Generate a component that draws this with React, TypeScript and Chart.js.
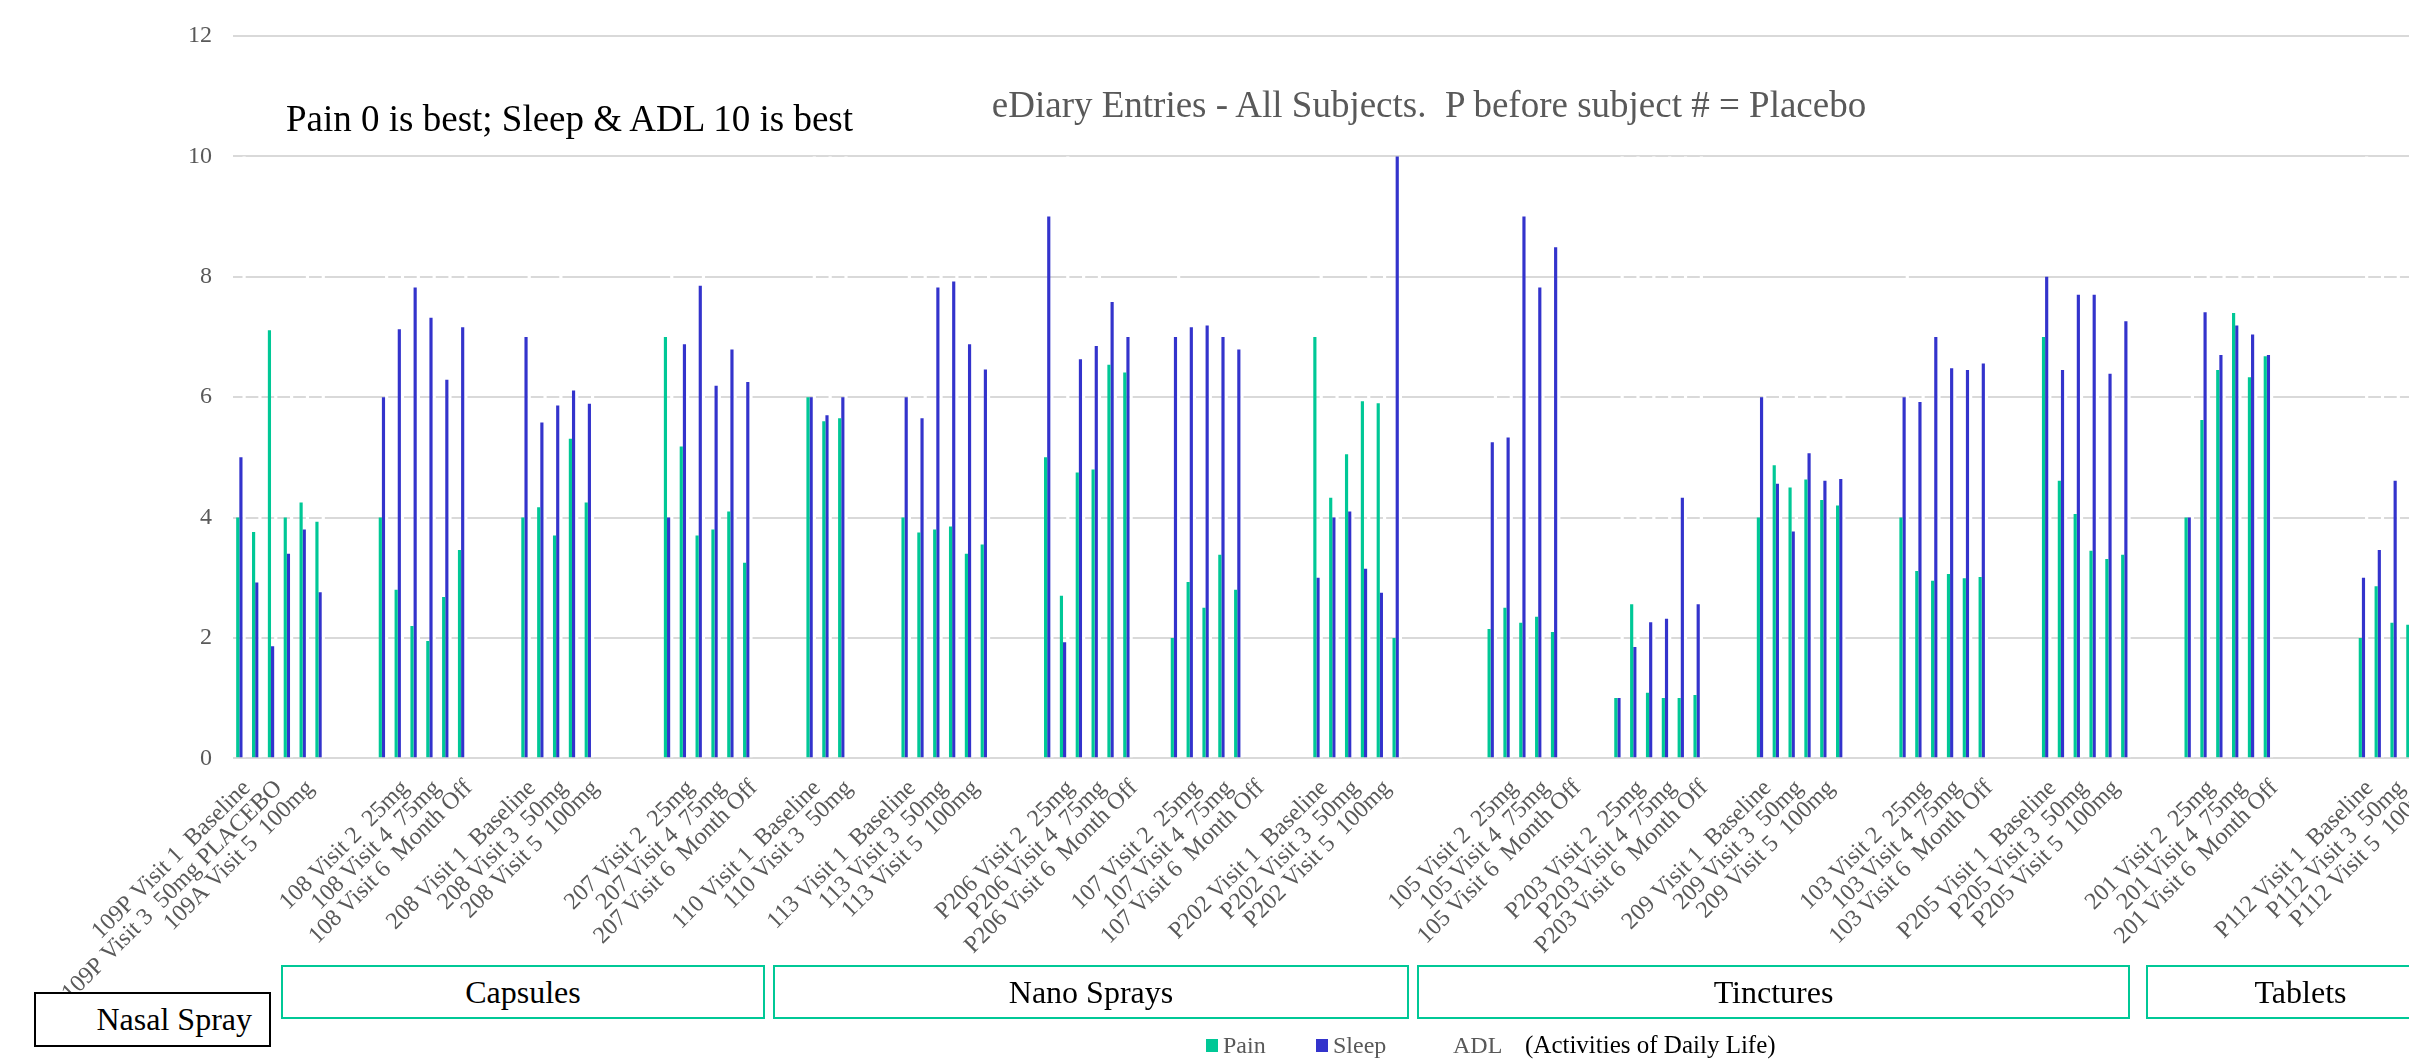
import React, { useEffect, useRef } from "react";
import { Chart, registerables } from "chart.js";

Chart.register(...registerables);

const E = "";
const _ = null;

// Category labels (only every other label is shown in the source chart)
const categories: string[] = [
  "109P Visit 1  Baseline", E, "109P Visit 3  50mg PLACEBO", E, "109A Visit 5  100mg", E,
  E, E, E,
  E, "108 Visit 2  25mg", E, "108 Visit 4  75mg", E, "108 Visit 6  Month Off",
  E, E, E,
  "208 Visit 1  Baseline", E, "208 Visit 3  50mg", E, "208 Visit 5  100mg", E,
  E, E, E,
  E, "207 Visit 2  25mg", E, "207 Visit 4  75mg", E, "207 Visit 6  Month Off",
  E, E, E,
  "110 Visit 1  Baseline", E, "110 Visit 3  50mg",
  E, E, E,
  "113 Visit 1  Baseline", E, "113 Visit 3  50mg", E, "113 Visit 5  100mg", E,
  E, E, E,
  E, "P206 Visit 2  25mg", E, "P206 Visit 4  75mg", E, "P206 Visit 6  Month Off",
  E, E,
  E, "107 Visit 2  25mg", E, "107 Visit 4  75mg", E, "107 Visit 6  Month Off",
  E, E, E,
  "P202 Visit 1  Baseline", E, "P202 Visit 3  50mg", E, "P202 Visit 5  100mg", E,
  E, E, E, E, E,
  E, "105 Visit 2  25mg", E, "105 Visit 4  75mg", E, "105 Visit 6  Month Off",
  E, E,
  E, "P203 Visit 2  25mg", E, "P203 Visit 4  75mg", E, "P203 Visit 6  Month Off",
  E, E, E,
  "209 Visit 1  Baseline", E, "209 Visit 3  50mg", E, "209 Visit 5  100mg", E,
  E, E, E,
  E, "103 Visit 2  25mg", E, "103 Visit 4  75mg", E, "103 Visit 6  Month Off",
  E, E, E,
  "P205 Visit 1  Baseline", E, "P205 Visit 3  50mg", E, "P205 Visit 5  100mg", E,
  E, E, E,
  E, "201 Visit 2  25mg", E, "201 Visit 4  75mg", E, "201 Visit 6  Month Off",
  E, E, E, E, E,
  "P112 Visit 1  Baseline", E, "P112 Visit 3  50mg", E, "P112 Visit 5  100mg", E,
];

const pain: (number | null)[] = [
  4.0, 3.76, 7.11, 4.0, 4.25, 3.93, _, _, _,
  4.0, 2.8, 2.2, 1.95, 2.68, 3.46, _, _, _,
  4.0, 4.17, 3.7, 5.31, 4.25, _, _, _, _,
  7.0, 5.18, 3.7, 3.8, 4.1, 3.25, _, _, _,
  6.0, 5.6, 5.65, _, _, _,
  4.0, 3.75, 3.8, 3.85, 3.4, 3.55, _, _, _,
  5.0, 2.7, 4.75, 4.8, 6.54, 6.41, _, _,
  2.0, 2.93, 2.5, 3.38, 2.8, _, _, _, _,
  7.0, 4.33, 5.05, 5.93, 5.9, 2.0, _, _, _, _, _,
  2.15, 2.5, 2.25, 2.35, 2.1, _, _, _,
  1.0, 2.56, 1.09, 1.0, 1.0, 1.05, _, _, _,
  4.0, 4.87, 4.5, 4.63, 4.29, 4.2, _, _, _,
  4.0, 3.11, 2.95, 3.06, 2.99, 3.01, _, _, _,
  7.0, 4.61, 4.06, 3.45, 3.31, 3.38, _, _, _,
  4.0, 5.62, 6.45, 7.4, 6.33, 6.68, _, _, _, _, _,
  2.0, 2.86, 2.25, 2.22, _, _,
];

const sleep: (number | null)[] = [
  5.0, 2.92, 1.86, 3.4, 3.8, 2.76, _, _, _,
  6.0, 7.13, 7.82, 7.32, 6.29, 7.16, _, _, _,
  7.0, 5.58, 5.86, 6.11, 5.89, _, _, _, _,
  4.0, 6.88, 7.85, 6.19, 6.79, 6.25, _, _, _,
  6.0, 5.7, 6.0, _, _, _,
  6.0, 5.65, 7.82, 7.92, 6.88, 6.46, _, _, _,
  9.0, 1.93, 6.63, 6.85, 7.58, 7.0, _, _,
  7.0, 7.16, 7.19, 7.0, 6.79, _, _, _, _,
  3.0, 4.0, 4.1, 3.15, 2.75, 10.0, _, _, _, _, _,
  5.25, 5.33, 9.0, 7.82, 8.49, _, _, _,
  1.0, 1.85, 2.26, 2.32, 4.33, 2.56, _, _, _,
  6.0, 4.56, 3.77, 5.07, 4.61, 4.64, _, _, _,
  6.0, 5.92, 7.0, 6.48, 6.45, 6.56, _, _, _,
  8.0, 6.45, 7.7, 7.7, 6.39, 7.26, _, _, _,
  4.0, 7.41, 6.7, 7.19, 7.04, 6.7, _, _, _, _, _,
  3.0, 3.46, 4.61, _, _, _,
];

// ADL bars are white in the source (only visible where they cut the grid lines)
const adl: (number | null)[] = [
  10.0, 7.0, 7.0, 7.0, 8.5, 8.5, _, _, _,
  9.0, 9.0, 9.0, 9.0, 9.0, 9.0, _, _, _,
  8.5, 7.0, 8.5, 7.0, 7.0, _, _, _, _,
  8.5, 7.0, 8.5, 7.0, 7.0, 7.0, _, _, _,
  10.0, 10.0, 10.0, _, _, _,
  9.0, 9.0, 9.0, 9.0, 9.0, 9.0, _, _, _,
  7.0, 10.0, 9.0, 9.0, 7.0, 7.0, _, _,
  8.5, 7.0, 7.0, 7.0, 7.0, _, _, _, _,
  8.5, 7.0, 7.0, 8.5, 8.5, 7.0, _, _, _, _, _,
  7.0, 7.0, 7.0, 7.0, 7.0, _, _, _,
  10.0, 10.0, 10.0, 10.0, 10.0, 10.0, _, _, _,
  7.0, 7.0, 7.0, 7.0, 7.0, 7.0, _, _, _,
  8.5, 7.0, 7.0, 7.0, 7.0, 7.0, _, _, _,
  7.0, 7.0, 7.0, 7.0, 7.0, 7.0, _, _, _,
  9.0, 9.0, 9.0, 9.0, 9.0, 9.0, _, _, _, _, _,
  10.0, 9.0, 9.0, _, _, _,
];

const seriesNames = ["Pain", "Sleep", "ADL"];
const seriesColors = ["#00C896", "#3333CC", "#FFFFFF"];
const yMin = 0;
const yMax = 12;
const yStep = 2;

const titleText = "eDiary Entries - All Subjects.  P before subject # = Placebo";
const noteText = "Pain 0 is best; Sleep & ADL 10 is best";
const adlNote = "(Activities of Daily Life)";
const productGroups = ["Nasal Spray", "Capsules", "Nano Sprays", "Tinctures", "Tablets"];

const SERIF = "'Liberation Serif', 'Times New Roman', Times, serif";
const GREEN = "#00C896";

function Txt(props: {
  text: string; x: number; base: number; size: number; color: string;
  align?: "left" | "center";
}) {
  const { text, x, base, size, color, align = "left" } = props;
  const top = base - 0.8375 * size;
  const style: React.CSSProperties = {
    position: "absolute", top, left: x, fontFamily: SERIF, fontSize: size, lineHeight: `${size}px`,
    color, whiteSpace: "pre",
  };
  if (align === "center") style.transform = "translateX(-50%)";
  return <div style={style}>{text}</div>;
}

function Box(props: {
  text: string; left: number; top: number; right: number; bottom: number; color: string;
  endAligned?: boolean;
}) {
  const { text, left, top, right, bottom, color, endAligned } = props;
  return (
    <div
      style={{
        position: "absolute", left, top, width: right - left, height: bottom - top,
        boxSizing: "border-box", border: `2px solid ${color}`, background: "#fff",
        display: "flex", alignItems: "center",
        justifyContent: endAligned ? "flex-end" : "center",
        paddingRight: endAligned ? 17 : 0,
        fontFamily: SERIF, fontSize: 32, color: "#000", whiteSpace: "pre",
      }}
    >
      {text}
    </div>
  );
}

export default function App() {
  const ref = useRef<HTMLCanvasElement>(null);

  useEffect(() => {
    if (!ref.current) return;
    const font = { family: SERIF, size: 24 };
    const chart = new Chart(ref.current, {
      type: "bar",
      data: {
        labels: categories,
        datasets: [
          { label: seriesNames[0], data: pain, backgroundColor: seriesColors[0] },
          { label: seriesNames[1], data: sleep, backgroundColor: seriesColors[1] },
          { label: seriesNames[2], data: adl, backgroundColor: seriesColors[2] },
        ],
      },
      options: {
        responsive: false,
        animation: false,
        layout: { padding: { left: 0, right: 29.4, top: 36, bottom: 0 } },
        datasets: { bar: { categoryPercentage: 0.6, barPercentage: 1.0 } },
        plugins: {
          legend: { display: false },
          tooltip: { enabled: false },
          title: { display: false },
        },
        scales: {
          x: {
            grid: { display: false, drawTicks: false },
            border: { display: false },
            ticks: {
              autoSkip: false,
              maxRotation: 45,
              minRotation: 45,
              color: "#595959",
              font,
              padding: 16,
              labelOffset: 6,
            },
            afterFit: (s: any) => { s.height = 1060 - 758.3; },
          },
          y: {
            min: yMin,
            max: yMax,
            ticks: { stepSize: yStep, color: "#595959", font, padding: 21 },
            grid: { color: "#D9D9D9", lineWidth: 2, drawTicks: false },
            border: { display: false },
            afterFit: (s: any) => { s.width = 233; },
          },
        },
      },
    });
    return () => chart.destroy();
  }, []);

  return (
    <div
      style={{
        position: "absolute", left: 0, top: 0, width: 2409, height: 1060,
        overflow: "hidden", background: "#fff",
      }}
    >
      <canvas
        ref={ref}
        width={2480}
        height={1060}
        style={{ position: "absolute", left: 0, top: 0, width: 2480, height: 1060, display: "block" }}
      />
      <Txt text={noteText} x={286} base={131} size={37} color="#000" />
      <Txt text={titleText} x={1429} base={117} size={37} color="#595959" align="center" />

      <Box text={productGroups[0]} left={34} top={992} right={271} bottom={1047} color="#000" endAligned />
      <Box text={productGroups[1]} left={281} top={965} right={765} bottom={1019} color={GREEN} />
      <Box text={productGroups[2]} left={773} top={965} right={1409} bottom={1019} color={GREEN} />
      <Box text={productGroups[3]} left={1417} top={965} right={2130} bottom={1019} color={GREEN} />
      <Box text={productGroups[4]} left={2146} top={965} right={2455} bottom={1019} color={GREEN} />

      <div style={{ position: "absolute", left: 1206, top: 1039, width: 12, height: 13, background: seriesColors[0] }} />
      <Txt text={seriesNames[0]} x={1223} base={1053} size={24} color="#595959" />
      <div style={{ position: "absolute", left: 1316, top: 1039, width: 12, height: 13, background: seriesColors[1] }} />
      <Txt text={seriesNames[1]} x={1333} base={1053} size={24} color="#595959" />
      <div style={{ position: "absolute", left: 1436, top: 1039, width: 12, height: 13, background: seriesColors[2] }} />
      <Txt text={seriesNames[2]} x={1453} base={1053} size={24} color="#595959" />
      <Txt text={adlNote} x={1525} base={1053} size={25} color="#000" />
    </div>
  );
}
